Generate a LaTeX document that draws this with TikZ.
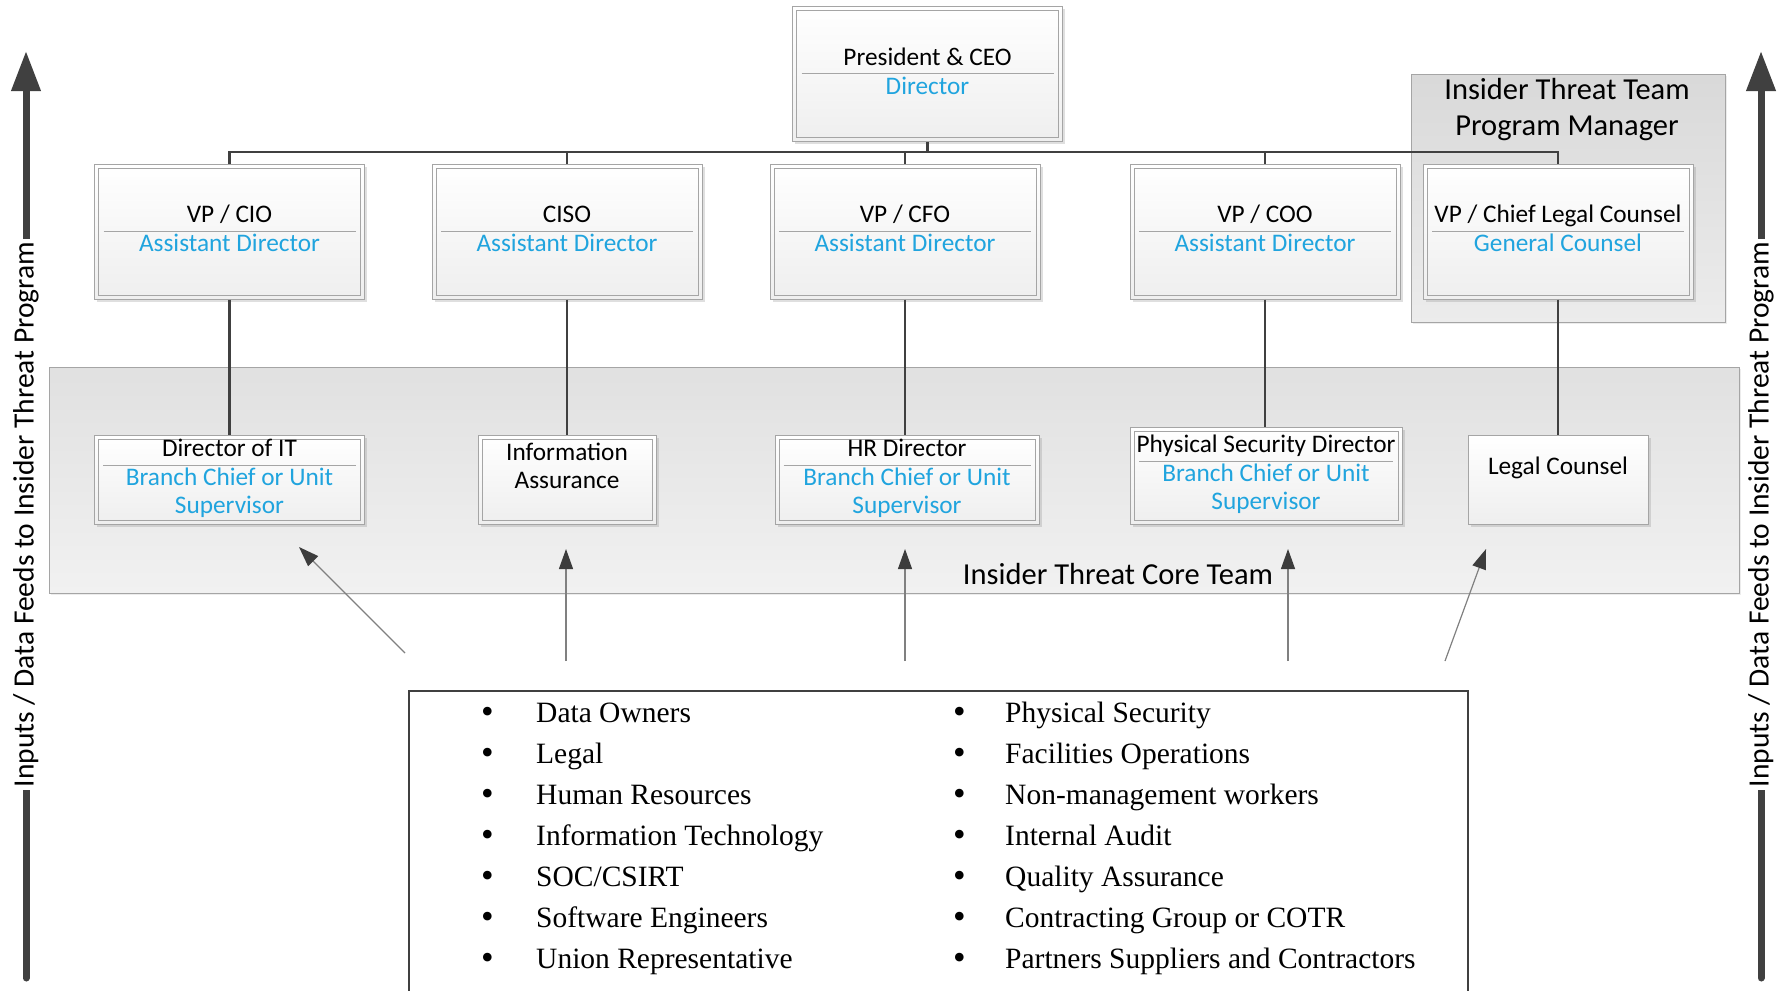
\documentclass[tikz,border=0pt]{standalone}
\usepackage{fontspec}
\usepackage{colortbl}
\setmainfont{Carlito}
\newfontfamily\listfont{Liberation Serif}
\usetikzlibrary{arrows.meta}
\usetikzlibrary{shadows}
\usetikzlibrary{positioning}

\definecolor{subblue}{RGB}{32,164,222}
\definecolor{linegray}{RGB}{64,64,64}
\definecolor{boxedge}{RGB}{165,165,165}
\definecolor{tipgray}{RGB}{60,60,60}

\arrayrulecolor{boxedge}
\setlength{\arrayrulewidth}{1pt}
% title over a rule, role below
\newcommand{\roletext}[3]{\begin{tabular}{@{}c@{}}\makebox[#1]{#2}\\\hline #3\end{tabular}}
\newcommand{\listdot}{\raisebox{-1pt}{\fontsize{36}{36}\selectfont\textbullet}}

\tikzset{
	plainbox/.style={draw=boxedge, line width=1pt, shading=axis, top color=white, bottom color=gray!13,
		drop shadow={shadow xshift=2.5pt, shadow yshift=-2.5pt, opacity=0.25},
		inner sep=0pt, align=center, minimum width=270pt, minimum height=135pt,
		font=\fontsize{25.3}{28}\selectfont},
	orgbox/.style={plainbox,
		path picture={\draw[boxedge, line width=1pt] ([shift={(4pt,-4pt)}]path picture bounding box.north west) rectangle ([shift={(-4pt,4pt)}]path picture bounding box.south east);}},
	teambox/.style={orgbox, minimum height=89pt},
	areabox/.style={draw=boxedge, line width=1pt, shading=axis, inner sep=0pt,
		drop shadow={shadow xshift=2pt, shadow yshift=-2pt, opacity=0.15}},
	orgline/.style={draw=linegray, line width=2.5pt},
	feed/.style={draw=gray, line width=1.2pt, -{Triangle[width=14pt,length=20pt,color=tipgray]}},
	sidearrow/.style={draw=linegray, line width=7pt, line cap=round, -{Triangle[width=28pt,length=40pt]}},
	sidelabel/.style={fill=white, inner sep=3pt, sloped, font=\fontsize{29.5}{34}\selectfont},
	item/.style={anchor=west, inner sep=0pt, text height=21pt, text depth=6pt, font=\listfont\fontsize{29.5}{34}\selectfont},
}

\begin{document}
\begin{tikzpicture}[x=1pt, y=-1pt]
	\useasboundingbox (0,0) rectangle (1787,990);

	% areas behind the boxes
	\node[areabox, top color=gray!30, bottom color=gray!15, minimum width=314pt, minimum height=248pt] (pm) at (1568,198) {};
	\node[font=\fontsize{30.5}{36}\selectfont, align=center] (pmlabel) at (1567,110) {Insider Threat Team\\Program Manager};
	\node[areabox, top color=gray!24, bottom color=gray!11, minimum width=1690pt, minimum height=226pt] (core) at (894,480) {};
	\node[font=\fontsize{30.5}{36}\selectfont] (corelabel) at (1118,574) {Insider Threat Core Team};

	% leadership
	\node[orgbox] (ceo) at (927.5,74) {\roletext{252pt}{President \& CEO}{\color{subblue}Director}};
	\node[orgbox] (cio) at (229.5,231.5) {\roletext{252pt}{VP / CIO}{\color{subblue}Assistant Director}};
	\node[orgbox] (ciso) at (567,231.5) {\roletext{252pt}{CISO}{\color{subblue}Assistant Director}};
	\node[orgbox] (cfo) at (905,231.5) {\roletext{252pt}{VP / CFO}{\color{subblue}Assistant Director}};
	\node[orgbox] (coo) at (1265,231.5) {\roletext{252pt}{VP / COO}{\color{subblue}Assistant Director}};
	\node[orgbox] (clc) at (1558,231.5) {\roletext{252pt}{VP / Chief Legal Counsel}{\color{subblue}General Counsel}};

	% core team
	\node[teambox] (dit) at (229.5,479.5) {\roletext{253pt}{Director of IT}{\color{subblue}Branch Chief or Unit\\\color{subblue}Supervisor}};
	\node[teambox, minimum width=178pt] (ia) at (567,479.5) {Information\\Assurance\\\mbox{}};
	\node[teambox, minimum width=264pt] (hrd) at (907,479.5) {\roletext{247pt}{HR Director}{\color{subblue}Branch Chief or Unit\\\color{subblue}Supervisor}};
	\node[teambox, minimum width=272pt, minimum height=97pt] (psd) at (1266,475.5) {\roletext{254pt}{Physical Security Director}{\color{subblue}Branch Chief or Unit\\\color{subblue}Supervisor}};
	\node[plainbox, minimum width=180pt, minimum height=89pt] (lc) at (1558,479.5) {Legal Counsel\\\mbox{}};

	% reporting lines
	\coordinate (bus) at (0,152);
	\draw[orgline] (ceo.south) -- (ceo.south |- bus);
	\draw[orgline] (cio.north) -- (cio.north |- bus) -- (clc.north |- bus) -- (clc.north);
	\foreach \n in {ciso,cfo,coo}
		\draw[orgline] (\n.north) -- (\n.north |- bus);
	\foreach \a/\b in {cio/dit,ciso/ia,cfo/hrd,coo/psd,clc/lc}
		\draw[orgline] (\a.south) -- (\a.south |- \b.north);

	% sources
	\node[draw=linegray, line width=1.5pt, fill=white, minimum width=1059pt, minimum height=302pt, inner sep=0pt] (src) at (938.5,842) {};
	\foreach \txt [count=\i] in {Data Owners,Legal,Human Resources,Information Technology,SOC/CSIRT,Software Engineers,Union Representative}
		\node[item] (l\i) at (481,{674+41*\i}) {\makebox[55pt][l]{\listdot}\txt};
	\foreach \txt [count=\i] in {Physical Security,Facilities Operations,Non-management workers,Internal Audit,Quality Assurance,Contracting Group or COTR,Partners Suppliers and Contractors}
		\node[item] (r\i) at (953,{674+41*\i}) {\makebox[52pt][l]{\listdot}\txt};

	\foreach \sx/\sy/\ex/\ey [count=\i] in {405/653/299/547,566/661/566/549,905/661/905/549,1288/661/1288/549,1445/661/1486/549}{
		\coordinate (s\i) at (\sx,\sy);
		\coordinate (e\i) at (\ex,\ey);
		\draw[feed] (s\i) -- (e\i);
	}

	% data feeds, both sides
	\coordinate (lbot) at (26,978);
	\coordinate (ltop) at (26,51);
	\coordinate (rbot) at (1761,978);
	\coordinate (rtop) at (1761,51);
	\draw[sidearrow] (lbot) -- node[sidelabel] {Inputs / Data Feeds to Insider Threat Program} (ltop);
	\draw[sidearrow] (rbot) -- node[sidelabel] {Inputs / Data Feeds to Insider Threat Program} (rtop);
\end{tikzpicture}
\end{document}
